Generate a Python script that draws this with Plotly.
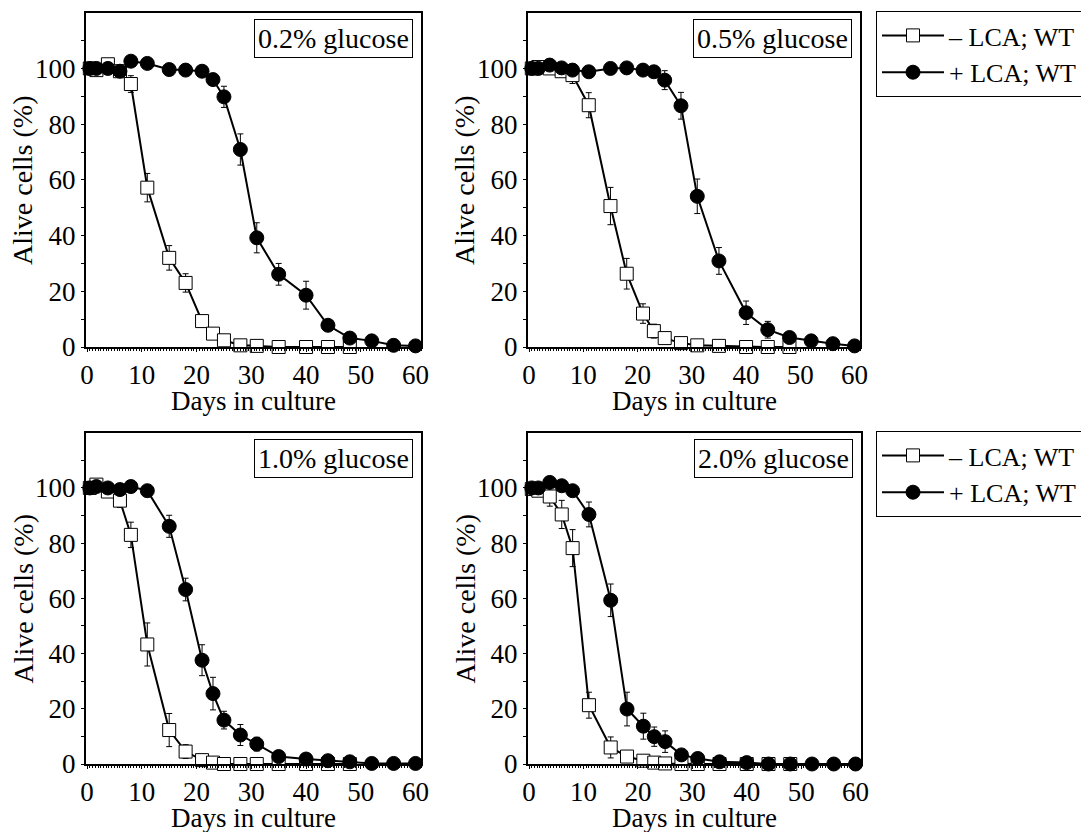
import plotly.graph_objects as go

W, H = 1089, 832
OFF = 8  # page body margin offset of the plot div

days = [0.5, 1.7, 3.8, 6, 8, 11, 15, 18, 21, 23, 25, 28, 31, 35, 40, 44, 48, 52, 56, 60]

panel_labels = ["0.2% glucose", "0.5% glucose", "1.0% glucose", "2.0% glucose"]

# - LCA (open squares)
minus_x = [
    days[:17],
    days[:17],
    days[:17],
    days[:17],
]
minus_y = [
    [100, 99.4, 101.5, 99, 94.4, 57.2, 32, 23, 9.3, 4.8, 2.4, 0.6, 0.4, 0, 0, 0, 0],
    [100, 100.5, 100, 99, 97.6, 86.8, 50.6, 26.3, 12, 5.7, 3.2, 1.4, 0.6, 0.4, 0, 0, 0],
    [100, 101.2, 98.7, 95.4, 83, 43.3, 12.3, 4.5, 1.4, 0.5, 0, 0, 0, 0, 0, 0, 0],
    [99.6, 99, 96.9, 90.4, 78.2, 21.3, 6, 2.7, 1.2, 0.5, 0.2, 0, 0, 0, 0, 0, 0],
]
minus_err = [
    [1, 1, 1, 1.5, 3, 5.1, 4.4, 3.3, 2, 1.5, 1, 0.5, 0.3, 0, 0, 0, 0],
    [1, 1, 1, 1.5, 3, 4.5, 6.7, 5.5, 3.5, 2.5, 1.5, 0.8, 0.4, 0.3, 0, 0, 0],
    [1, 1, 1, 2.5, 4.6, 7.8, 6, 2.5, 1, 0.4, 0, 0, 0, 0, 0, 0, 0],
    [1, 1, 3.5, 5.1, 6.7, 4.7, 3.8, 1.5, 0.8, 0.4, 0.2, 0, 0, 0, 0, 0, 0],
]

# + LCA (filled circles)
plus_x = [days, days, days, days]
plus_y = [
    [100, 100, 100, 99, 102.6, 101.8, 99.6, 99.4, 99, 96, 89.8, 70.9, 39.2, 26.1, 18.6, 7.8, 3.2, 2.2, 0.6, 0.4],
    [100, 100, 101.2, 100.2, 99.4, 98.8, 100, 100.2, 99.4, 98.8, 95.8, 86.6, 54.1, 30.9, 12.3, 6.2, 3.4, 2.2, 1.2, 0.4],
    [100, 100.5, 100, 99.4, 100.5, 99, 86.1, 63.2, 37.6, 25.5, 15.9, 10.5, 7.2, 2.7, 1.8, 1.2, 0.8, 0.2, 0.2, 0.2],
    [100, 100, 102, 100.8, 99, 90.4, 59.3, 19.9, 13.7, 9.9, 8.1, 3.3, 2, 0.8, 0.5, 0, 0, 0, 0, 0],
]
plus_err = [
    [1, 1, 1, 1, 1, 1, 1.5, 1.5, 1.5, 2, 3.8, 5.6, 5.4, 3.9, 5, 2, 1, 0.5, 0.3, 0.2],
    [1, 1, 1, 1, 1, 1, 1.5, 1.5, 2, 2, 3.4, 4.8, 6.2, 4.8, 4.2, 3, 1, 0.5, 0.3, 0.2],
    [1, 1, 1, 1, 1, 1, 4, 4.1, 5.6, 5.9, 3.2, 3.8, 2.5, 1, 0.5, 0.3, 0.2, 0, 0, 0],
    [1, 1, 1, 1, 1, 4.5, 5.9, 6.1, 4.7, 3.5, 3.9, 1.5, 1, 0.5, 0.3, 0, 0, 0, 0, 0],
]

legend_names = ["\u2013 LCA; WT", "+ LCA; WT"]

FONT = "Liberation Serif, Times New Roman, serif"

# pixel boxes in page coordinates: (left, right, top, bottom)
boxes = [
    (86, 421, 13, 347),
    (528, 860, 13, 347),
    (86, 421, 433, 764),
    (528, 861, 433, 764),
]


def px(xp):
    return (xp - OFF) / W


def py(yp):
    return 1 - (yp - OFF) / H


fig = go.Figure()
annotations = []

for i in range(4):
    l, r, t, b = boxes[i]
    ax = "" if i == 0 else str(i + 1)
    xa, ya = "x" + ax, "y" + ax
    leg = None
    show = False
    if i == 1:
        leg, show = "legend", True
    elif i == 3:
        leg, show = "legend2", True
    fig.add_trace(go.Scatter(
        x=minus_x[i], y=minus_y[i], xaxis=xa, yaxis=ya,
        mode="lines+markers", name=legend_names[0],
        line=dict(color="black", width=2),
        marker=dict(symbol="square", size=13, color="white",
                    line=dict(color="black", width=1)),
        error_y=dict(type="data", array=minus_err[i], color="black",
                     thickness=1, width=3),
        cliponaxis=False, showlegend=show, legend=leg or "legend",
    ))
    fig.add_trace(go.Scatter(
        x=plus_x[i], y=plus_y[i], xaxis=xa, yaxis=ya,
        mode="lines+markers", name=legend_names[1],
        line=dict(color="black", width=2),
        marker=dict(symbol="circle", size=14, color="black",
                    line=dict(color="black", width=1)),
        error_y=dict(type="data", array=plus_err[i], color="black",
                     thickness=1, width=3),
        cliponaxis=False, showlegend=show, legend=leg or "legend",
    ))
    xdom = [px(l), px(r)]
    ydom = [py(b), py(t)]
    axis_common = dict(showline=True, linecolor="black", linewidth=2,
                       mirror=True, showgrid=False, zeroline=False,
                       automargin=False,
                       ticks="outside", tickcolor="black",
                       tickfont=dict(family=FONT, size=27, color="black"))
    fig.update_layout(**{
        "xaxis" + ax: dict(domain=xdom, anchor=ya, range=[-0.2, 61],
                           tickmode="linear", tick0=0, dtick=10, ticklen=3,
                           minor=dict(dtick=0.5, ticklen=2, ticks="outside",
                                      tickcolor="black"),
                           **axis_common),
        "yaxis" + ax: dict(domain=ydom, anchor=xa, range=[0, 119.9],
                           tickmode="linear", tick0=0, dtick=20, ticklen=3,
                           minor=dict(dtick=10, ticklen=3, ticks="outside",
                                      tickcolor="black"),
                           **axis_common),
    })
    # panel label box
    annotations.append(dict(
        text=panel_labels[i], xref="paper", yref="paper",
        x=px(r - 8), y=py(t + 6), xanchor="right", yanchor="top",
        showarrow=False, font=dict(family=FONT, size=28, color="black"),
        bordercolor="black", borderwidth=1, borderpad=3, bgcolor="white",
    ))
    # axis titles
    annotations.append(dict(
        text="Days in culture", xref="paper", yref="paper",
        x=px((l + r) / 2), y=py(b + 54), xanchor="center", yanchor="middle",
        showarrow=False, font=dict(family=FONT, size=27, color="black"),
    ))
    annotations.append(dict(
        text="Alive cells (%)", xref="paper", yref="paper",
        x=px(l - 63), y=py((t + b) / 2), xanchor="center", yanchor="middle",
        textangle=-90,
        showarrow=False, font=dict(family=FONT, size=28, color="black"),
    ))

legend_common = dict(
    xanchor="left", yanchor="top", bordercolor="black", borderwidth=1,
    bgcolor="white", font=dict(family=FONT, size=26, color="black"),
    tracegroupgap=0, itemwidth=62,
)
fig.update_layout(
    width=W, height=H,
    margin=dict(l=0, r=0, t=0, b=0, autoexpand=False),
    paper_bgcolor="white", plot_bgcolor="white",
    font=dict(family=FONT, color="black"),
    annotations=annotations,
    legend=dict(x=px(876), y=py(11), **legend_common),
    legend2=dict(x=px(876), y=py(431), **legend_common),
)

fig.write_html("out.html")
